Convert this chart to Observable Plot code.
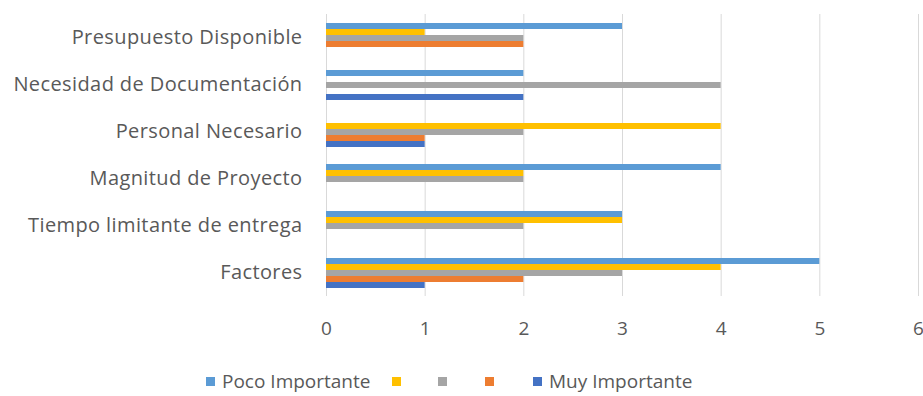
<!DOCTYPE html>
<html>
<head>
<meta charset="utf-8">
<script src="https://cdn.jsdelivr.net/npm/d3@7"></script>
<script src="https://cdn.jsdelivr.net/npm/@observablehq/plot@0.6"></script>
<style>
  html, body { margin: 0; padding: 0; background: #fff; }
  #chart { width: 923px; font-family: "Open Sans", sans-serif; color: #595959; }
  #chart svg { display: block; }
  .legend { position: relative; height: 56px; font-size: 19px; line-height: 20px; color: #595959; }
  .legend .item { position: absolute; top: 31px; height: 20px; display: flex; align-items: center; white-space: nowrap; }
  .legend .sw { width: 9px; height: 9px; display: inline-block; flex: none; }
  .legend .lbl { margin-left: 7px; display: inline-block; }
</style>
</head>
<body>
<div id="chart"></div>
<script>
// Factors, listed top to bottom
const categories = [
  "Presupuesto Disponible",
  "Necesidad de Documentación",
  "Personal Necesario",
  "Magnitud de Proyecto",
  "Tiempo limitante de entrega",
  "Factores"
];

// Rating series, in the order the bars sit within each group (top first)
const seriesKeys = ["poco", "s2", "s3", "s4", "muy"];
const seriesLabels = ["Poco Importante", "", "", "", "Muy Importante"];
const seriesColors = ["#5B9BD5", "#FFC000", "#A5A5A5", "#ED7D31", "#4472C4"];

// Counts per factor, one array per series (same order as categories)
const pocoImportante = [3, 2, 0, 4, 3, 5];
const serie2 = [1, 0, 4, 2, 3, 4];
const serie3 = [2, 4, 2, 2, 2, 3];
const serie4 = [2, 0, 1, 0, 0, 2];
const muyImportante = [0, 2, 1, 0, 0, 1];

const xTicks = [0, 1, 2, 3, 4, 5, 6];

const seriesValues = [pocoImportante, serie2, serie3, serie4, muyImportante];
const rows = [];
seriesKeys.forEach((key, si) => {
  categories.forEach((cat, ci) => {
    rows.push({category: cat, series: key, value: seriesValues[si][ci]});
  });
});

const plot = Plot.plot({
  width: 923,
  height: 340,
  marginLeft: 326,
  marginRight: 5,
  marginTop: 12,
  marginBottom: 42,
  style: {fontFamily: "'Open Sans', sans-serif", fontSize: "19px", color: "#595959", background: "#fff"},
  x: {domain: [0, 6], ticks: xTicks, tickSize: 0, tickPadding: 25, label: null, tickFormat: d => String(d)},
  y: {domain: seriesKeys, paddingInner: 0, paddingOuter: 1, axis: null},
  fy: {domain: categories, padding: 0, label: null, tickSize: 0, tickPadding: 24},
  color: {domain: seriesKeys, range: seriesColors},
  marks: [
    Plot.ruleX(xTicks, {stroke: "#d9d9d9", strokeWidth: 1}),
    Plot.barX(rows, {x: "value", y: "series", fy: "category", fill: "series", inset: 0})
  ]
});

// Category labels slightly larger and wider-set than the tick labels
plot.querySelectorAll("g[aria-label='fy-axis'] text, g[aria-label='fy-axis tick label'] text").forEach(t => {
  t.setAttribute("font-size", "20px");
  t.setAttribute("letter-spacing", "0.4px");
});

const chart = document.getElementById("chart");
chart.appendChild(plot);

// Legend below the plot
const legend = document.createElement("div");
legend.className = "legend";
const legendLeft = [206, 392, 438, 485, 533];
seriesKeys.forEach((key, i) => {
  const item = document.createElement("div");
  item.className = "item";
  item.style.left = legendLeft[i] + "px";
  const sw = document.createElement("span");
  sw.className = "sw";
  sw.style.background = seriesColors[i];
  item.appendChild(sw);
  if (seriesLabels[i]) {
    const lbl = document.createElement("span");
    lbl.className = "lbl";
    lbl.textContent = seriesLabels[i];
    item.appendChild(lbl);
  }
  legend.appendChild(item);
});
chart.appendChild(legend);
</script>
</body>
</html>
